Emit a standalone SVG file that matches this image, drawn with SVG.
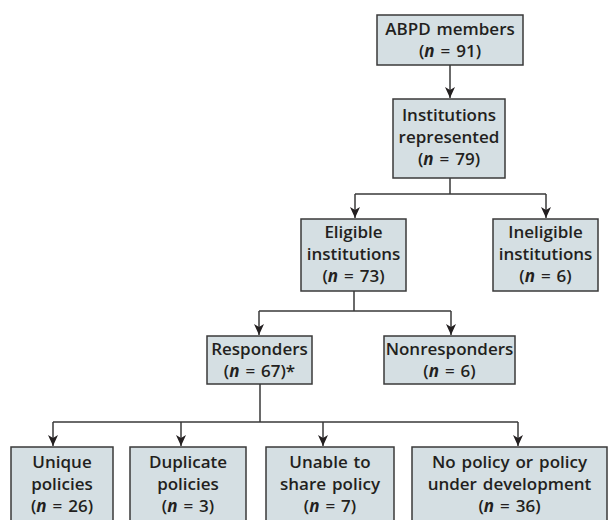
<svg xmlns="http://www.w3.org/2000/svg" width="609" height="520" viewBox="0 0 609 520">
<defs>
<style>
.box{fill:#d5dfe3;stroke:#3a3a3a;stroke-width:1.5}
.t{font-family:"Open Sans","Liberation Sans",sans-serif;font-weight:600;font-size:17px;word-spacing:1.5px;fill:#231f20;text-anchor:middle}
.i{font-style:italic;font-weight:700}
.c{fill:none;stroke:#3a3a3a;stroke-width:1.5}
</style>
<marker id="ah" markerUnits="userSpaceOnUse" markerWidth="14" markerHeight="14" viewBox="-12 -7 14 14" refX="0" refY="0" orient="auto" overflow="visible">
<path d="M0,0 L-11,-5 L-8,0 L-11,5 Z" fill="#231f20"/>
</marker>
</defs>
<rect width="609" height="520" fill="#ffffff"/>
<g id="connectors">
<path class="c" d="M450,65 V98" marker-end="url(#ah)"/>
<path class="c" d="M450,178 V194 M355,194 H546"/>
<path class="c" d="M355,194 V218" marker-end="url(#ah)"/>
<path class="c" d="M546,194 V218" marker-end="url(#ah)"/>
<path class="c" d="M354,291 V311 M259,311 H451"/>
<path class="c" d="M259,311 V335" marker-end="url(#ah)"/>
<path class="c" d="M451,311 V335" marker-end="url(#ah)"/>
<path class="c" d="M260,384 V422 M53,422 H518"/>
<path class="c" d="M53,422 V446" marker-end="url(#ah)"/>
<path class="c" d="M181,422 V446" marker-end="url(#ah)"/>
<path class="c" d="M323,422 V446" marker-end="url(#ah)"/>
<path class="c" d="M518,422 V446" marker-end="url(#ah)"/>
</g>
<g id="abpd">
<rect class="box" x="377" y="15" width="146" height="50"/>
<text class="t" x="450" y="35">ABPD members</text>
<text class="t" x="450" y="57">(<tspan class="i">n</tspan> = 91)</text>
</g>
<g id="institutions">
<rect class="box" x="393" y="99" width="112" height="79"/>
<text class="t" x="449" y="121">Institutions</text>
<text class="t" x="449" y="143">represented</text>
<text class="t" x="449" y="165">(<tspan class="i">n</tspan> = 79)</text>
</g>
<g id="eligible">
<rect class="box" x="301" y="219" width="105" height="72"/>
<text class="t" x="353.5" y="238">Eligible</text>
<text class="t" x="353.5" y="260">institutions</text>
<text class="t" x="353.5" y="282">(<tspan class="i">n</tspan> = 73)</text>
</g>
<g id="ineligible">
<rect class="box" x="493" y="219" width="105" height="72"/>
<text class="t" x="545.5" y="238">Ineligible</text>
<text class="t" x="545.5" y="260">institutions</text>
<text class="t" x="545.5" y="282">(<tspan class="i">n</tspan> = 6)</text>
</g>
<g id="responders">
<rect class="box" x="207" y="336" width="105" height="48"/>
<text class="t" x="259.5" y="355">Responders</text>
<text class="t" x="259.5" y="377">(<tspan class="i">n</tspan> = 67)*</text>
</g>
<g id="nonresponders">
<rect class="box" x="384" y="336" width="131" height="48"/>
<text class="t" x="449.5" y="355">Nonresponders</text>
<text class="t" x="449.5" y="377">(<tspan class="i">n</tspan> = 6)</text>
</g>
<g id="unique">
<rect class="box" x="11" y="447" width="102" height="76"/>
<text class="t" x="62" y="468">Unique</text>
<text class="t" x="62" y="490">policies</text>
<text class="t" x="62" y="512">(<tspan class="i">n</tspan> = 26)</text>
</g>
<g id="duplicate">
<rect class="box" x="130" y="447" width="116" height="76"/>
<text class="t" x="188" y="468">Duplicate</text>
<text class="t" x="188" y="490">policies</text>
<text class="t" x="188" y="512">(<tspan class="i">n</tspan> = 3)</text>
</g>
<g id="unable">
<rect class="box" x="266" y="447" width="128" height="76"/>
<text class="t" x="330" y="468">Unable to</text>
<text class="t" x="330" y="490">share policy</text>
<text class="t" x="330" y="512">(<tspan class="i">n</tspan> = 7)</text>
</g>
<g id="nopolicy">
<rect class="box" x="412" y="447" width="195" height="76"/>
<text class="t" x="509.5" y="468">No policy or policy</text>
<text class="t" x="509.5" y="490">under development</text>
<text class="t" x="509.5" y="512">(<tspan class="i">n</tspan> = 36)</text>
</g>
</svg>
